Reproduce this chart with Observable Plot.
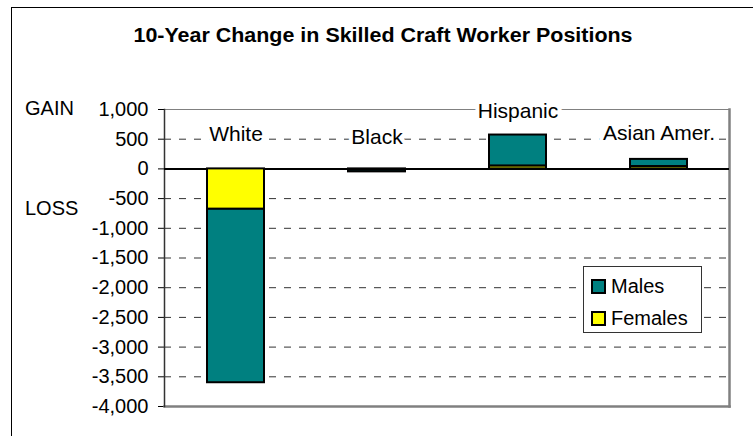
<!DOCTYPE html>
<html>
<head>
<meta charset="utf-8">
<script src="https://cdn.jsdelivr.net/npm/d3@7"></script>
<script src="https://cdn.jsdelivr.net/npm/@observablehq/plot@0.6"></script>
<style>
  html, body { margin: 0; padding: 0; background: #fff; }
  #wrap { position: relative; width: 753px; height: 436px; overflow: hidden; font-family: "Liberation Sans", Arial, sans-serif; }
  #outer { position: absolute; left: 11px; top: 7px; width: 800px; height: 500px; border: 1.5px solid #000; box-sizing: border-box; }
  #title { position: absolute; left: 0; width: 766px; top: 25px; text-align: center; font-weight: bold; font-size: 19.5px; line-height: 20px; color: #000; transform: scaleX(1.1); transform-origin: 383px 0; z-index: 3; }
  .side { position: absolute; left: 25px; font-size: 20px; line-height: 20px; color: #000; z-index: 3; }
  #legend { position: absolute; left: 583px; top: 266px; width: 119px; height: 67px; border: 1px solid #333; background: #fff; box-sizing: border-box; z-index: 3; }
  .lg { position: absolute; left: 7px; font-size: 20px; line-height: 20px; color: #000; white-space: nowrap; }
  .sw { display: inline-block; width: 11px; height: 11px; border: 2px solid #000; vertical-align: -1px; margin-right: 5px; }
  svg { position: absolute; left: 0; top: 0; z-index: 2; }
</style>
</head>
<body>
<div id="wrap">
  <div id="outer"></div>
  <div id="title"></div>
  <div class="side" id="gain" style="top:98px"></div>
  <div class="side" id="loss" style="top:198px"></div>
  <div id="legend"></div>
</div>
<script>
const title = "10-Year Change in Skilled Craft Worker Positions";
const categories = ["White", "Black", "Hispanic", "Asian Amer."];
const males = [-2920, -35, 520, 120];
const females = [-680, -15, 50, 40];
const series = ["Males", "Females"];
const colors = ["#008080", "#FFFF00"];
const yTicks = [1000, 500, 0, -500, -1000, -1500, -2000, -2500, -3000, -3500, -4000];
const gridTicks = [500, -500, -1000, -1500, -2000, -2500, -3000, -3500];
const labelY = [590, 540, 975, 600];
const sideLabels = ["GAIN", "LOSS"];

const rows = [];
categories.forEach((c, i) => {
  rows.push({cat: c, sex: "Females", value: females[i]});
  rows.push({cat: c, sex: "Males", value: males[i]});
});
const labels = categories.map((c, i) => ({cat: c, y: labelY[i]}));

const chart = Plot.plot({
  width: 753,
  height: 436,
  marginLeft: 164,
  marginRight: 24,
  marginTop: 109,
  marginBottom: 30,
  style: {fontFamily: "Liberation Sans, Arial, sans-serif", fontSize: "20px", color: "#000", background: "transparent"},
  x: {domain: categories, paddingInner: 0.596, paddingOuter: 0.298, axis: null},
  y: {domain: [-4000, 1000], ticks: yTicks, tickFormat: d => d.toLocaleString("en-US"), tickSize: 6, tickPadding: 10, label: null},
  color: {domain: series, range: colors},
  marks: [
    Plot.ruleY(gridTicks, {stroke: "#333", strokeWidth: 1, strokeDasharray: "7,8"}),
    Plot.frame({stroke: "#808080", strokeWidth: 1}),
    Plot.frame({anchor: "right", stroke: "#808080", strokeWidth: 2.5}),
    Plot.frame({anchor: "bottom", stroke: "#808080", strokeWidth: 2.5}),
    Plot.frame({anchor: "left", stroke: "#333", strokeWidth: 1.5}),
    Plot.ruleY([0], {stroke: "#000", strokeWidth: 2}),
    Plot.barY(rows, {x: "cat", y: "value", fill: "sex", stroke: "#000", strokeWidth: 2}),
    Plot.text(labels, {x: "cat", y: "y", text: "cat", fill: "#000", stroke: "#fff", strokeWidth: 8, paintOrder: "stroke", fontSize: 21, lineAnchor: "middle"})
  ]
});
document.getElementById("wrap").appendChild(chart);

document.getElementById("title").textContent = title;
document.getElementById("gain").textContent = sideLabels[0];
document.getElementById("loss").textContent = sideLabels[1];
const lg = document.getElementById("legend");
series.forEach((s, i) => {
  const d = document.createElement("div");
  d.className = "lg";
  d.style.top = (i === 0 ? 9 : 41) + "px";
  const sw = document.createElement("span");
  sw.className = "sw";
  sw.style.background = colors[i];
  d.appendChild(sw);
  d.appendChild(document.createTextNode(s));
  lg.appendChild(d);
});
</script>
</body>
</html>
